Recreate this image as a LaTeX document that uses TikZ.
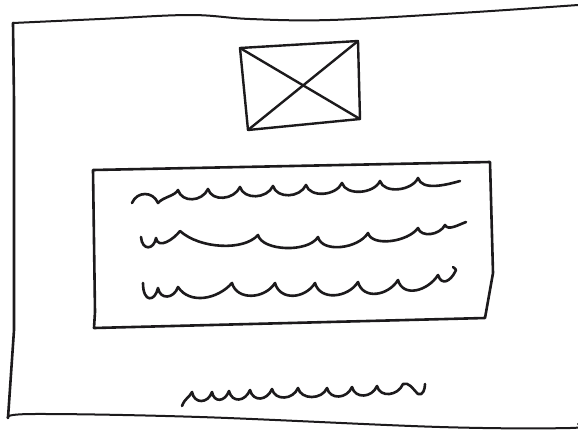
\documentclass[tikz,border=0pt]{standalone}
\definecolor{inkc}{HTML}{1C1A1C}
\tikzset{
  ink/.style={draw=inkc, line cap=round, line join=round},
  frameline/.style={ink, line width=2pt},
  boxline/.style={ink, line width=2.4pt},
  wave/.style={ink, line width=2.6pt}
}
\begin{document}
\begin{tikzpicture}[x=1pt,y=-1pt]
\useasboundingbox[fill=white] (0,0) rectangle (578,432);
% outer sheet frame
\coordinate (ftl) at (13,23);
\coordinate (fbl) at (8,418);
\draw[frameline] plot[smooth, tension=0.6] coordinates {(578,5) (460,13) (330,20) (250,19) (190,15) (100,19) (ftl)};
\draw[ink, line width=2.6pt] (ftl) -- (14,100) -- (14,330) -- (fbl);
\draw[frameline] plot[smooth, tension=0.6] coordinates {(fbl) (33,414) (200,417) (440,427) (570,428) (578,424)};
% image placeholder
\coordinate (ia) at (240,48);
\coordinate (ib) at (358,41);
\coordinate (ic) at (360,119);
\coordinate (id) at (248,130);
\draw[boxline] (ia) -- (ib) -- (ic) -- (id) -- cycle;
\draw[boxline] (ia) -- (ic);
\draw[boxline] (id) -- (ib);
% text box
\coordinate (ta) at (93,170);
\coordinate (tb) at (490,162);
\coordinate (tc) at (493,273);
\coordinate (td) at (485,318);
\coordinate (te) at (94,328);
\draw[ink, line width=2.6pt] (ta) -- (tb) -- (tc) -- (td) -- (te) -- (95,312) -- cycle;
% wavy line 1
\draw[wave] (132,203) .. controls +(5,-12) and +(-5,-12) .. (158,203)
  .. controls +(5,-6) and +(-3,6) .. (178,190)
  .. controls +(4,13) and +(-6,13) .. (208,189)
  .. controls +(4,13) and +(-6,13) .. (240,187)
  .. controls +(4,13) and +(-6,13) .. (273,186)
  .. controls +(4,13) and +(-6,13) .. (306,185)
  .. controls +(4,13) and +(-6,13) .. (342,183)
  .. controls +(4,13) and +(-6,13) .. (380,181)
  .. controls +(4,13) and +(-6,13) .. (418,178)
  .. controls +(4,13) and +(-14,4) .. (460,181);
% wavy line 2
\draw[wave] (141,237) .. controls +(1,14) and +(-2,12) .. (156,238)
  .. controls +(2,12) and +(-6,8) .. (180,231)
  .. controls +(20,18) and +(-14,16) .. (258,235)
  .. controls +(4,16) and +(-10,16) .. (318,237)
  .. controls +(4,16) and +(-10,16) .. (368,233)
  .. controls +(4,14) and +(-10,14) .. (418,228)
  .. controls +(3,10) and +(-5,10) .. (445,225)
  .. controls +(3,6) and +(-8,3) .. (466,222);
% wavy line 3
\draw[wave] (143,283) .. controls +(0,20) and +(-3,14) .. (158,288)
  .. controls +(2,12) and +(-4,12) .. (178,287)
  .. controls +(12,18) and +(-14,16) .. (232,283)
  .. controls +(5,18) and +(-10,16) .. (275,283)
  .. controls +(5,18) and +(-10,16) .. (315,283)
  .. controls +(5,18) and +(-10,16) .. (358,282)
  .. controls +(5,18) and +(-10,16) .. (398,280)
  .. controls +(5,18) and +(-10,16) .. (438,275)
  .. controls +(4,12) and +(-4,8) .. (455,272) .. controls +(2,-3) and +(2,2) .. (453,267);
% bottom wavy line
\draw[wave] (182,406) .. controls +(3,-8) and +(-3,6) .. (192,392)
  .. controls +(2,12) and +(-4,12) .. (212,392)
  .. controls +(2,11) and +(-4,11) .. (229,391)
  .. controls +(3,12) and +(-5,12) .. (250,390)
  .. controls +(3,12) and +(-5,12) .. (272,389)
  .. controls +(3,12) and +(-5,12) .. (298,388)
  .. controls +(3,12) and +(-5,12) .. (327,388)
  .. controls +(3,12) and +(-5,12) .. (352,387)
  .. controls +(3,12) and +(-5,12) .. (377,386)
  .. controls +(3,12) and +(-5,12) .. (403,384)
  .. controls +(6,-2) and +(-6,-6) .. (418,394)
  .. controls +(5,2) and +(0,5) .. (425,384);
\end{tikzpicture}
\end{document}
